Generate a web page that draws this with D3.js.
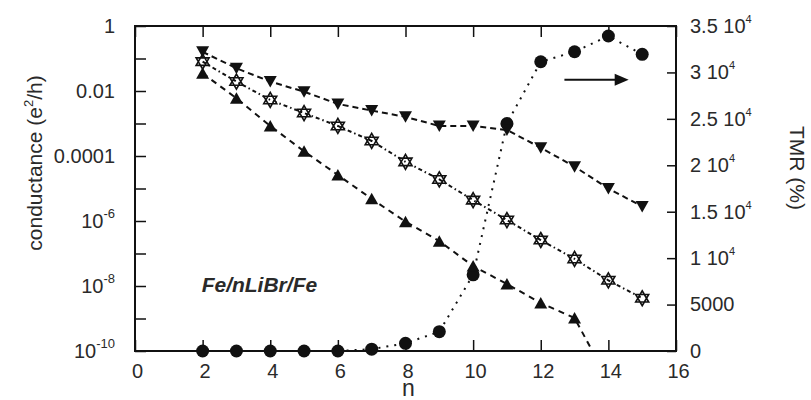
<!DOCTYPE html>
<html><head><meta charset="utf-8">
<script src="https://cdn.jsdelivr.net/npm/d3@7"></script>
<style>
html,body{margin:0;padding:0;background:#fff;}
text{font-family:"Liberation Sans",Arial,sans-serif;fill:#2a2a2a;}
</style></head>
<body><svg id="c" width="811" height="400"></svg>
<script>
// ---- data ----
const nDown = [2,3,4,5,6,7,8,9,10,11,12,13,14,15];
const gDown = [0.16,0.05,0.0195,0.0095,0.004,0.0025,0.0016,8.4e-4,8.4e-4,6.3e-4,1.8e-4,4.7e-5,1.0e-5,2.8e-6];
const nStar = [2,3,4,5,6,7,8,9,10,11,12,13,14,15];
const gStar = [0.08,0.0195,0.0053,0.0021,8.4e-4,2.9e-4,6.6e-5,1.9e-5,4.4e-6,1.07e-6,2.6e-7,6.8e-8,1.5e-8,4.2e-9];
const nUp = [2,3,4,5,6,7,8,9,10,11,12,13,14];
const gUp = [0.035,0.006,8.4e-4,1.4e-4,2.6e-5,4.8e-6,9.5e-7,2.4e-7,4.1e-8,1.15e-8,3e-9,1.04e-9,1.2e-11];
const nTMR = [2,3,4,5,6,7,8,9,10,11,12,13,14,15];
const tmr = [0,0,0,0,0,200,830,2080,8200,24500,31150,32230,33920,31950];
const xTicks = [0,2,4,6,8,10,12,14,16];
const leftExps = [0,-1,-2,-3,-4,-5,-6,-7,-8,-9,-10];
const leftLabels = {"0":["1",""],"-2":["0.01",""],"-4":["0.0001",""],"-6":["10","-6"],"-8":["10","-8"],"-10":["10","-10"]};
const rightTicks = [0,5000,10000,15000,20000,25000,30000,35000];
const rightLabels = [["0",""],["5000",""],["1 10","4"],["1.5 10","4"],["2 10","4"],["2.5 10","4"],["3 10","4"],["3.5 10","4"]];
const arrowN = [12.7,14.6];
const arrowTMR = [29200,29200];

// ---- layout ----
const L=135,R=676,T=26,B=351;
const svg=d3.select("#c");
const x=d3.scaleLinear([0,16],[L,R]);
const yL=d3.scaleLog([1e-10,1],[B,T]);
const yR=d3.scaleLinear([0,35000],[B,T]);
const FS=20;

svg.append("defs").append("clipPath").attr("id","clip").append("rect")
  .attr("x",L).attr("y",T).attr("width",R-L).attr("height",B-T);

// axes
const ax=svg.append("g").attr("stroke-width",1.5);
const gl=ax.append("g").attr("transform",`translate(${L},0)`)
  .call(d3.axisLeft(yL).tickValues(leftExps.map(e=>Math.pow(10,e))).tickSizeInner(-11).tickSizeOuter(0).tickPadding(20).tickFormat(""));
gl.selectAll("text").each(function(d){
  const e=Math.round(Math.log10(d)); const lab=leftLabels[String(e)];
  const t=d3.select(this);
  if(!lab){t.remove();return;}
  t.text(null).attr("font-size",FS).attr("fill","#2a2a2a");
  t.append("tspan").text(lab[0]);
  if(lab[1]) t.append("tspan").attr("font-size",13).attr("dy","-0.75em").text(lab[1]);
});
const gr=ax.append("g").attr("transform",`translate(${R},0)`)
  .call(d3.axisRight(yR).tickValues(rightTicks).tickSizeInner(-9).tickSizeOuter(0).tickPadding(14).tickFormat(""));
gr.selectAll("text").each(function(d,i){
  const lab=rightLabels[i]; const t=d3.select(this);
  t.text(null).attr("font-size",FS).attr("fill","#2a2a2a");
  t.append("tspan").text(lab[0]);
  if(lab[1]) t.append("tspan").attr("font-size",11).attr("dy","-0.9em").text(lab[1]);
});
const gb=ax.append("g").attr("transform",`translate(0,${B})`)
  .call(d3.axisBottom(x).tickValues(xTicks).tickSizeInner(-11).tickSizeOuter(0).tickPadding(13).tickFormat(d3.format("d")));
gb.selectAll("text").attr("font-size",FS).attr("fill","#2a2a2a").attr("dx",2);
const gt=ax.append("g").attr("transform",`translate(0,${T})`)
  .call(d3.axisTop(x).tickValues(xTicks).tickSizeInner(-11).tickSizeOuter(0).tickFormat(""));
ax.selectAll(".domain").remove();
ax.selectAll(".tick line").attr("stroke","#111").attr("stroke-width",1.5);
svg.append("rect").attr("x",L).attr("y",T).attr("width",R-L).attr("height",B-T)
  .attr("fill","none").attr("stroke","#111").attr("stroke-width",2);

// axis titles
const tl=svg.append("text").attr("font-size",21).attr("text-anchor","middle")
  .attr("transform",`translate(42,163) rotate(-90)`);
tl.append("tspan").text("conductance (e");
tl.append("tspan").attr("font-size",13).attr("dy","-0.7em").text("2");
tl.append("tspan").attr("dy","0.45em").text("/h)");
svg.append("text").attr("font-size",21).attr("text-anchor","middle")
  .attr("transform",`translate(790,168) rotate(90)`).text("TMR (%)");
svg.append("text").attr("font-size",23).attr("text-anchor","middle").attr("x",x(8)+3).attr("y",396).text("n");
svg.append("text").attr("font-size",21).attr("font-weight","bold").attr("font-style","italic")
  .attr("x",x(2)-1).attr("y",292).text("Fe/nLiBr/Fe");

// lines
const plot=svg.append("g").attr("clip-path","url(#clip)");
function line(xs,ys,ys_scale,dash,w){
  const pts=xs.map((n,i)=>[x(n),ys_scale(ys[i])]);
  plot.append("path").attr("d",d3.line()(pts)).attr("fill","none").attr("stroke","#111")
    .attr("stroke-width",w).attr("stroke-dasharray",dash);
}
line(nTMR,tmr,yR,"2,6",2);
line(nUp,gUp,yL,"6,5",2);
line(nStar,gStar,yL,"4,3,1.5,3",2);
line(nDown,gDown,yL,"6,4",2);

// markers
const up="M0,-6L6.5,5.5L-6.5,5.5Z", down="M-6.5,-5.5L6.5,-5.5L0,6Z";
const star="M0,-7.5L6.5,3.75L-6.5,3.75Z M0,7.5L6.5,-3.75L-6.5,-3.75Z";
svg.select("defs").append("clipPath").attr("id","clip2").append("rect")
  .attr("x",L-10).attr("y",T-10).attr("width",R-L+20).attr("height",B-T+17);
const mk=svg.append("g").attr("clip-path","url(#clip2)");
mk.selectAll(".c").data(nTMR).join("circle").attr("cx",n=>x(n)).attr("cy",(n,i)=>yR(tmr[i]))
  .attr("r",6.5).attr("fill","#111");
mk.selectAll(".u").data(nUp.filter((n,i)=>gUp[i]>=1e-10)).join("path")
  .attr("transform",(n,i)=>`translate(${x(n)},${yL(gUp[i])})`).attr("d",up).attr("fill","#111");
mk.selectAll(".s").data(nStar).join("path")
  .attr("transform",(n,i)=>`translate(${x(n)},${yL(gStar[i])})`).attr("d",star)
  .attr("fill","#fff").attr("fill-rule","nonzero").attr("stroke","#111").attr("stroke-width",1.6);
mk.selectAll(".d").data(nDown).join("path")
  .attr("transform",(n,i)=>`translate(${x(n)},${yL(gDown[i])})`).attr("d",down).attr("fill","#111");

// arrow
const ay=yR(arrowTMR[0]);
svg.append("line").attr("x1",x(arrowN[0])).attr("x2",x(arrowN[1])-12).attr("y1",ay).attr("y2",ay)
  .attr("stroke","#111").attr("stroke-width",2);
svg.append("path").attr("d",`M${x(arrowN[1])},${ay}L${x(arrowN[1])-14},${ay-6}L${x(arrowN[1])-14},${ay+6}Z`).attr("fill","#111");
</script></body></html>
